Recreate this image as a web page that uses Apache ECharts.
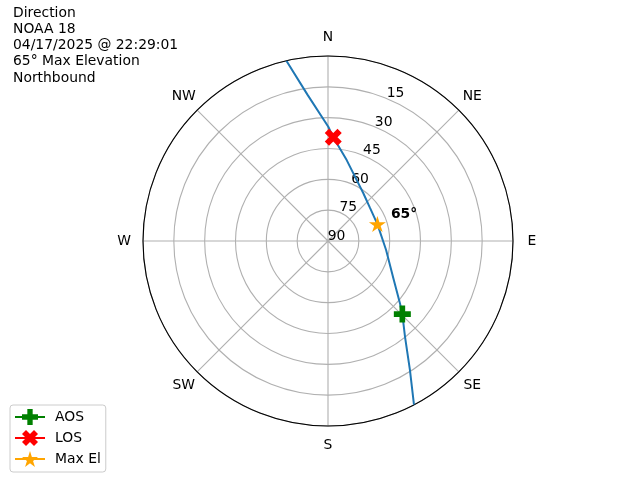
<!DOCTYPE html>
<html>
<head>
<meta charset="utf-8">
<script src="https://cdn.jsdelivr.net/npm/echarts@6/dist/echarts.min.js"></script>
<style>html,body{margin:0;padding:0;background:#fff;}#c{width:640px;height:480px;}</style>
</head>
<body>
<div id="c"></div>
<script>
// ---- data ----
var titleLines = ['Direction', 'NOAA 18', '04/17/2025 @ 22:29:01', '65\u00b0 Max Elevation', 'Northbound'];
var compassLabels = ['N', 'NE', 'E', 'SE', 'S', 'SW', 'W', 'NW'];
var elevationTicks = [0, 15, 30, 45, 60, 75, 90];
// pass track (elevation deg, azimuth deg), from SE horizon to N horizon
var passElevation = [0, 15.6, 30.2, 39.3, 43.7, 53.4, 61.4, 64.6, 64.0, 61.1, 49.6, 39.5, 34.4, 18.1, 0];
var passAzimuth   = [152.3, 147.6, 141.2, 134.5, 130.9, 119.7, 98.8, 71.1, 51.8, 36.5, 13.0, 2.9, 0.15, 352, 347];
var aosPoint = [39.3, 134.5];
var losPoint = [39.5, 2.9];
var maxElPoint = [64.6, 71.1];
var maxElLabel = '65\u00b0';

var FONT = 'DejaVu Sans';
var FS = 13.9;
var CX = 328, CY = 241, R = 185;
var LBL = 19; // compass label centre distance beyond the rim

var plusPath = 'path://M2,0L4,0L4,2L6,2L6,4L4,4L4,6L2,6L2,4L0,4L0,2L2,2Z';
var xPath = 'path://M1,0L2,1L3,0L4,1L3,2L4,3L3,4L2,3L1,4L0,3L1,2L0,1Z';
var starPath = 'path://M95.1,0L117.55,69.1L190.2,69.1L131.43,111.8L153.9,180.9L95.1,138.2L36.3,180.9L58.77,111.8L0,69.1L72.65,69.1Z';

var track = passElevation.map(function (e, i) { return [e, passAzimuth[i]]; });
var cBox = 2 * LBL, dBox = Math.SQRT2 * LBL;

var chart = echarts.init(document.getElementById('c'));
chart.setOption({
  animation: false,
  backgroundColor: '#fff',
  title: {
    text: titleLines.join('\n'),
    left: 8, top: 0,
    textStyle: { fontFamily: FONT, fontSize: FS, fontWeight: 'normal', color: '#000', lineHeight: 16.2 }
  },
  legend: {
    orient: 'vertical',
    left: 10, bottom: 8,
    data: ['AOS', 'LOS', 'Max El'],
    itemWidth: 30, itemHeight: 20, itemGap: 5,
    padding: [4, 5, 5, 4],
    borderColor: '#cccccc', borderWidth: 1, borderRadius: 3,
    textStyle: { fontFamily: FONT, fontSize: FS, color: '#000', padding: [0, 0, 0, 5] }
  },
  polar: [
    { center: [CX, CY], radius: R },
    { center: [CX + 8.5, CY - 5], radius: R }
  ],
  angleAxis: [
    {
      polarIndex: 0, type: 'value', min: 0, max: 360, interval: 45,
      startAngle: 90, clockwise: true,
      axisLine: { lineStyle: { color: '#000', width: 1.1 } },
      axisTick: { show: false },
      axisLabel: {
        margin: 0,
        fontFamily: FONT, fontSize: FS, color: '#000',
        formatter: function (v) {
          var i = Math.round(v / 45) % 8;
          return (i % 2 === 0 ? '{c|' : '{d|') + compassLabels[i] + '}';
        },
        rich: {
          c: { width: cBox, height: cBox, lineHeight: cBox, align: 'center', verticalAlign: 'middle', fontFamily: FONT, fontSize: FS, color: '#000' },
          d: { width: dBox, height: dBox, lineHeight: dBox, align: 'center', verticalAlign: 'middle', fontFamily: FONT, fontSize: FS, color: '#000' }
        }
      },
      splitLine: { show: true, lineStyle: { color: '#b0b0b0', width: 1.1 } }
    },
    {
      polarIndex: 1, type: 'value', min: 0, max: 360, startAngle: 67.5, show: false
    }
  ],
  radiusAxis: [
    {
      polarIndex: 0, type: 'value', min: 0, max: 90, interval: 15, inverse: true,
      axisLine: { show: false }, axisTick: { show: false }, axisLabel: { show: false },
      splitLine: { show: true, lineStyle: { color: '#b0b0b0', width: 1.1 } }
    },
    {
      polarIndex: 1, type: 'value', min: 0, max: 90, interval: 15, inverse: true,
      axisLine: { show: false }, axisTick: { show: false }, splitLine: { show: false },
      axisLabel: {
        show: true, margin: 0, align: 'center', verticalAlign: 'middle',
        showMinLabel: true, showMaxLabel: true,
        fontFamily: FONT, fontSize: FS, color: '#000',
        formatter: function (v) { return elevationTicks.indexOf(v) > 0 ? String(v) : ''; }
      }
    }
  ],
  series: [
    {
      name: 'Pass', type: 'line', coordinateSystem: 'polar', polarIndex: 0,
      data: track, showSymbol: false, symbol: 'none',
      lineStyle: { color: '#1f77b4', width: 2 }, z: 3
    },
    {
      name: 'AOS', type: 'line', coordinateSystem: 'polar', polarIndex: 0,
      data: [aosPoint], symbol: plusPath, symbolSize: 17,
      itemStyle: { color: 'green' }, lineStyle: { color: 'green', width: 2 }, z: 4
    },
    {
      name: 'LOS', type: 'line', coordinateSystem: 'polar', polarIndex: 0,
      data: [losPoint], symbol: xPath, symbolSize: 17,
      itemStyle: { color: 'red' }, lineStyle: { color: 'red', width: 2 }, z: 4
    },
    {
      name: 'Max El', type: 'line', coordinateSystem: 'polar', polarIndex: 0,
      data: [maxElPoint], symbol: starPath, symbolSize: [17, 16],
      itemStyle: { color: 'orange' }, lineStyle: { color: 'orange', width: 2 }, z: 4,
      label: {
        show: true, position: 'right', distance: 5, offset: [0, -10],
        formatter: maxElLabel,
        fontFamily: FONT, fontSize: FS, fontWeight: 'bold', color: '#000'
      }
    }
  ]
});
</script>
</body>
</html>
